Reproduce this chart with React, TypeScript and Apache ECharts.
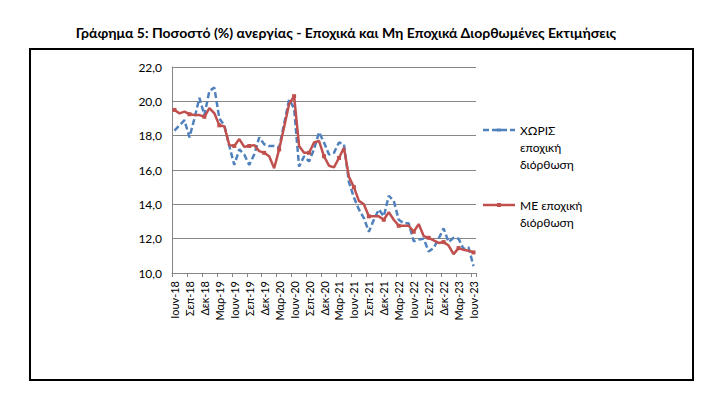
import React, { useEffect, useRef } from "react";
import * as echarts from "echarts";

const monthNames = ["Ιουν", "Ιουλ", "Αυγ", "Σεπ", "Οκτ", "Νοε", "Δεκ", "Ιαν", "Φεβ", "Μαρ", "Απρ", "Μαϊ"];
const categories: string[] = [];
for (let k = 0; k < 61; k++) {
  const m = k % 12;
  const yr = 18 + Math.floor((k + 5) / 12);
  categories.push(monthNames[m] + "-" + yr);
}

const withoutSA = [
  18.3, 18.6, 18.9, 17.9, 19.0, 20.2, 19.2, 20.6, 20.8, 19.0,
  18.6, 17.4, 16.3, 17.2, 16.9, 16.3, 16.9, 17.9, 17.5, 17.4,
  17.4, 17.3, 18.7, 20.1, 19.6, 16.2, 16.8, 16.5, 17.2, 18.2,
  17.6, 16.9, 17.0, 17.6, 17.5, 15.3, 14.4, 13.7, 13.2, 12.4,
  13.1, 13.7, 13.3, 14.5, 14.2, 13.1, 12.9, 12.9, 11.85, 11.95,
  12.0, 11.25, 11.45, 12.0, 12.6, 11.8, 12.05, 12.0, 11.4, 11.5,
  10.4,
];

const withSA = [
  19.5, 19.3, 19.4, 19.25, 19.2, 19.2, 19.1, 19.6, 19.3, 18.6,
  18.55, 17.45, 17.4, 17.8, 17.35, 17.4, 17.45, 17.1, 17.0, 16.8,
  16.1, 17.2, 18.5, 19.85, 20.3, 17.4, 17.0, 17.0, 17.6, 17.7,
  16.8, 16.25, 16.15, 16.7, 17.3, 15.6, 15.0, 14.2, 14.0, 13.3,
  13.3, 13.3, 13.1, 13.55, 13.1, 12.75, 12.75, 12.75, 12.4, 12.85,
  12.15, 12.05, 11.9, 11.75, 11.8, 11.6, 11.1, 11.45, 11.35, 11.3,
  11.2,
];

const seriesNames = ["ΧΩΡΙΣ εποχική διόρθωση", "ΜΕ εποχική διόρθωση"];
const titleText = "Γράφημα 5: Ποσοστό (%) ανεργίας - Εποχικά και Μη Εποχικά Διορθωμένες Εκτιμήσεις";

const BLUE = "#4F81BD";
const RED = "#C0504D";
const FONT = "Lato, 'Open Sans', sans-serif";

export default function App() {
  const ref = useRef<HTMLDivElement>(null);
  useEffect(() => {
    if (!ref.current) return;
    const chart = echarts.init(ref.current, null, { renderer: "svg" });
    chart.setOption({
      animation: false,
      backgroundColor: "#ffffff",
      textStyle: { fontFamily: FONT },
      grid: { left: 172, right: 232, top: 67, bottom: 121 },
      xAxis: {
        type: "category",
        data: categories,
        boundaryGap: true,
        axisLine: { lineStyle: { color: "#868686", width: 1 } },
        axisTick: { show: true, interval: 2, length: 4, lineStyle: { color: "#868686" } },
        axisLabel: {
          interval: 2,
          rotate: 90,
          color: "#000",
          fontSize: 11,
          fontFamily: FONT,
          margin: 8,
        },
      },
      yAxis: {
        type: "value",
        min: 10,
        max: 22,
        interval: 2,
        axisLine: { show: true, lineStyle: { color: "#868686", width: 1 } },
        axisTick: { show: false },
        splitLine: { lineStyle: { color: "#868686", width: 1 } },
        axisLabel: {
          color: "#000",
          fontSize: 12,
          fontFamily: FONT,
          margin: 10,
          formatter: (v: number) => v.toFixed(1).replace(".", ","),
        },
      },
      series: [
        {
          name: seriesNames[0],
          type: "line",
          data: withoutSA,
          showSymbol: false,
          lineStyle: { color: BLUE, width: 2.5, type: [6, 3] },
          itemStyle: { color: BLUE },
          z: 2,
        },
        {
          name: seriesNames[1],
          type: "line",
          data: withSA,
          symbol: "rect",
          symbolSize: 4,
          lineStyle: { color: RED, width: 2.5 },
          itemStyle: { color: RED },
          z: 3,
        },
      ],
      graphic: [
        {
          type: "rect",
          shape: { x: 30, y: 49, width: 663, height: 331 },
          style: { fill: "none", stroke: "#000", lineWidth: 2 },
          silent: true,
        },
        {
          type: "text",
          x: 346,
          y: 32,
          style: {
            text: titleText,
            fill: "#000",
            font: "bold 14px " + FONT,
            textAlign: "center",
            textVerticalAlign: "middle",
          },
        },
        {
          type: "line",
          shape: { x1: 483, y1: 130, x2: 515, y2: 130 },
          style: { stroke: BLUE, lineWidth: 2.5, lineDash: [6, 3] },
        },
        {
          type: "rect",
          shape: { x: 497, y: 128.5, width: 4, height: 3 },
          style: { fill: BLUE },
        },
        {
          type: "text",
          x: 520,
          y: 121.5,
          style: {
            text: "ΧΩΡΙΣ\nεποχική\nδιόρθωση",
            fill: "#000",
            font: "12px " + FONT,
            lineHeight: 17,
            textVerticalAlign: "top",
          },
        },
        {
          type: "line",
          shape: { x1: 483, y1: 205, x2: 515, y2: 205 },
          style: { stroke: RED, lineWidth: 2.5 },
        },
        {
          type: "rect",
          shape: { x: 497, y: 203, width: 4, height: 4 },
          style: { fill: RED },
        },
        {
          type: "text",
          x: 520,
          y: 196.5,
          style: {
            text: "ΜΕ εποχική\nδιόρθωση",
            fill: "#000",
            font: "12px " + FONT,
            lineHeight: 17,
            textVerticalAlign: "top",
          },
        },
      ],
    });
    return () => chart.dispose();
  }, []);
  return (
    <div
      ref={ref}
      style={{ position: "fixed", left: 0, top: 0, width: 708, height: 394 }}
    />
  );
}
